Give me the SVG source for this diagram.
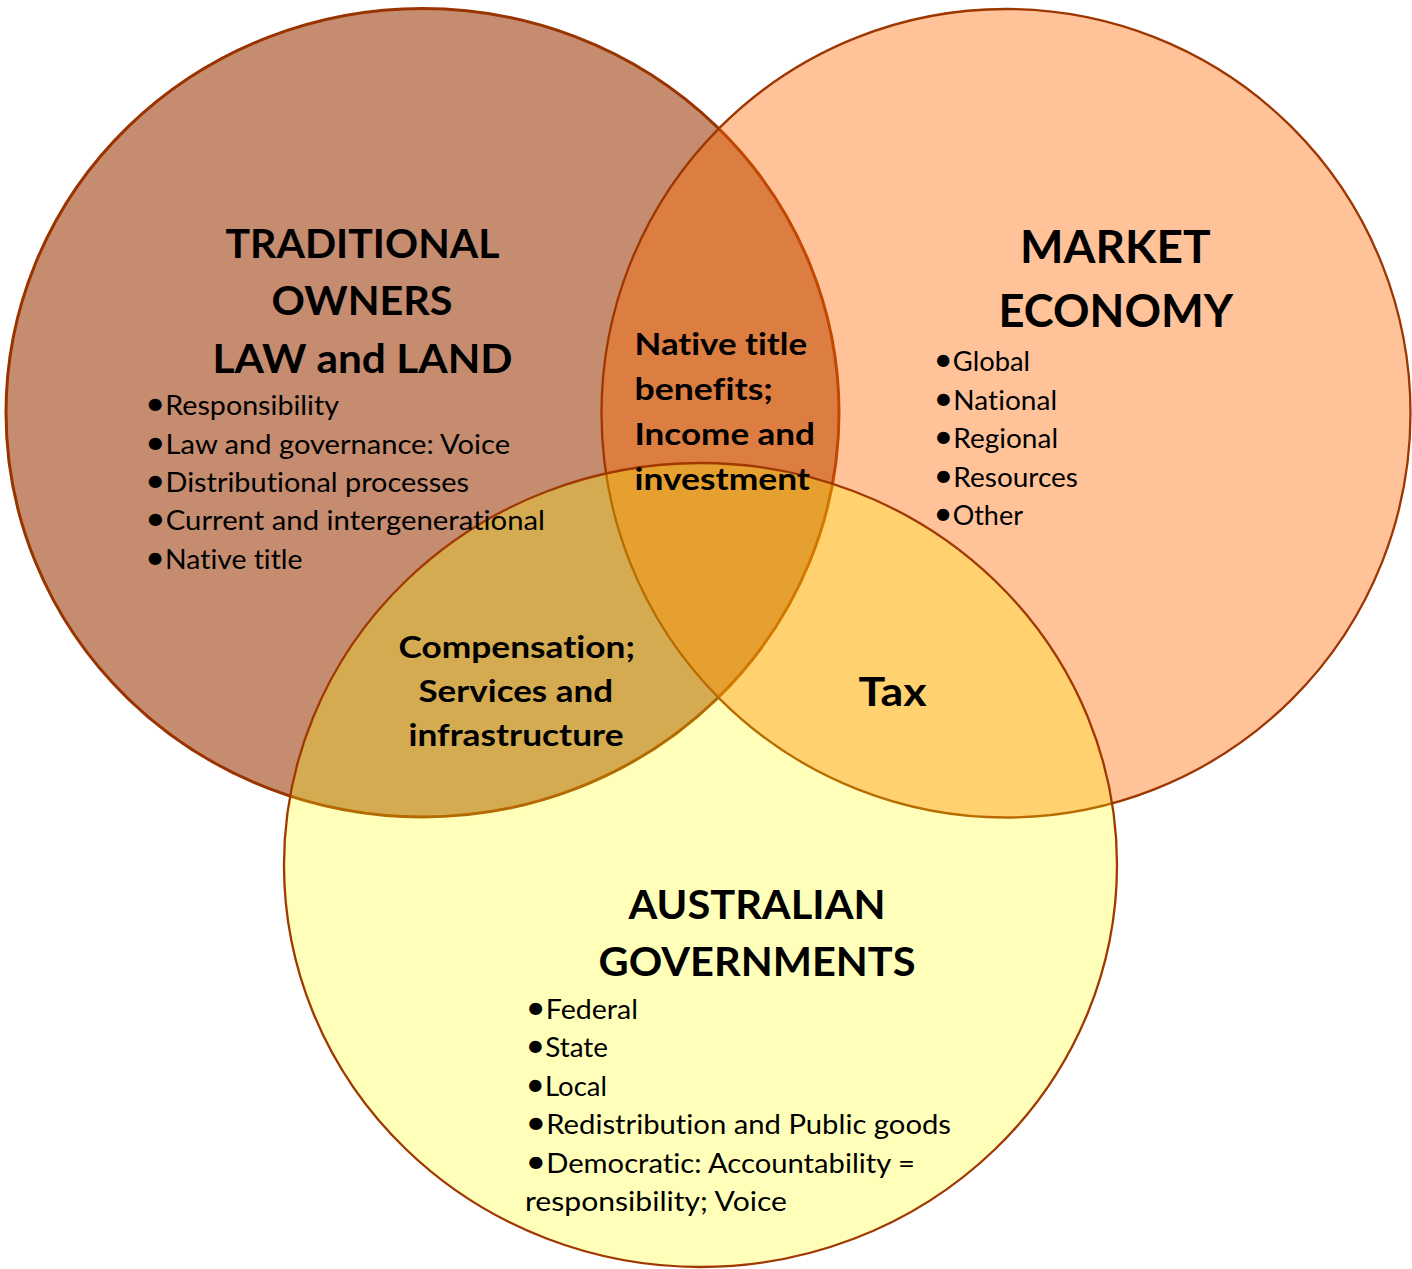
<svg xmlns="http://www.w3.org/2000/svg" width="1412" height="1269" viewBox="0 0 1412 1269">
<style>
.c1{fill:#993300;fill-opacity:0.565;stroke:#993300;stroke-width:3}
.c2{fill:#FF6600;fill-opacity:0.4;stroke:#9E3600;stroke-width:2.3}
.c3{fill:#FFFF00;fill-opacity:0.27;stroke:#A03800;stroke-width:2.3}
text{font-family:Lato,"Liberation Sans",sans-serif;fill:#000;font-variant-ligatures:none;font-feature-settings:"liga" 0,"clig" 0}
.t{font-weight:bold;font-size:40px}
.tm{font-weight:bold;font-size:46px}
.b{font-size:27px}
.d{font-size:33px}
.o{font-weight:bold;font-size:31px}
</style>
<rect width="1412" height="1269" fill="#FFFFFF"/>
<g id="circles">
<ellipse id="circle-traditional-owners" class="c1" cx="422.5" cy="412.75" rx="416.5" ry="404.25"/>
<ellipse id="circle-market-economy" class="c2" cx="1006" cy="413.25" rx="404.5" ry="404.25"/>
<ellipse id="circle-australian-governments" class="c3" cx="700.5" cy="865" rx="416.5" ry="402"/>
</g>
<g id="node-traditional-owners">
<text class="t" x="225.5" y="258" textLength="274" lengthAdjust="spacingAndGlyphs">TRADITIONAL</text>
<text class="t" x="271.5" y="315" textLength="181" lengthAdjust="spacingAndGlyphs">OWNERS</text>
<text class="t" x="212.5" y="373" textLength="300" lengthAdjust="spacingAndGlyphs">LAW and LAND</text>
<text class="b" x="145" y="415" textLength="194" lengthAdjust="spacingAndGlyphs"><tspan class="d">•</tspan>Responsibility</text>
<text class="b" x="145" y="453.5" textLength="365" lengthAdjust="spacingAndGlyphs"><tspan class="d">•</tspan>Law and governance: Voice</text>
<text class="b" x="145" y="492" textLength="324" lengthAdjust="spacingAndGlyphs"><tspan class="d">•</tspan>Distributional processes</text>
<text class="b" x="145" y="530" textLength="400" lengthAdjust="spacingAndGlyphs"><tspan class="d">•</tspan>Current and intergenerational</text>
<text class="b" x="145" y="568.5" textLength="157.5" lengthAdjust="spacingAndGlyphs"><tspan class="d">•</tspan>Native title</text>
</g>
<g id="node-market-economy">
<text class="tm" x="1020" y="263" textLength="190.5" lengthAdjust="spacingAndGlyphs">MARKET</text>
<text class="tm" x="998.5" y="326.5" textLength="234.5" lengthAdjust="spacingAndGlyphs">ECONOMY</text>
<text class="b" x="933.5" y="371" textLength="96.5" lengthAdjust="spacingAndGlyphs"><tspan class="d">•</tspan>Global</text>
<text class="b" x="933.5" y="409.5" textLength="123.5" lengthAdjust="spacingAndGlyphs"><tspan class="d">•</tspan>National</text>
<text class="b" x="933.5" y="448" textLength="124.5" lengthAdjust="spacingAndGlyphs"><tspan class="d">•</tspan>Regional</text>
<text class="b" x="933.5" y="486.5" textLength="144.5" lengthAdjust="spacingAndGlyphs"><tspan class="d">•</tspan>Resources</text>
<text class="b" x="933.5" y="525" textLength="89.5" lengthAdjust="spacingAndGlyphs"><tspan class="d">•</tspan>Other</text>
</g>
<g id="node-australian-governments">
<text class="t" x="628.5" y="918.5" textLength="257" lengthAdjust="spacingAndGlyphs">AUSTRALIAN</text>
<text class="t" x="598.5" y="976" textLength="317" lengthAdjust="spacingAndGlyphs">GOVERNMENTS</text>
<text class="b" x="525.5" y="1018.5" textLength="112.5" lengthAdjust="spacingAndGlyphs"><tspan class="d">•</tspan>Federal</text>
<text class="b" x="525.5" y="1057" textLength="82.5" lengthAdjust="spacingAndGlyphs"><tspan class="d">•</tspan>State</text>
<text class="b" x="525.5" y="1095.5" textLength="81.5" lengthAdjust="spacingAndGlyphs"><tspan class="d">•</tspan>Local</text>
<text class="b" x="525.5" y="1134" textLength="425.5" lengthAdjust="spacingAndGlyphs"><tspan class="d">•</tspan>Redistribution and Public goods</text>
<text class="b" x="525.5" y="1172.5" textLength="389.5" lengthAdjust="spacingAndGlyphs"><tspan class="d">•</tspan>Democratic: Accountability =</text>
<text class="b" x="525" y="1211" textLength="262" lengthAdjust="spacingAndGlyphs">responsibility; Voice</text>
</g>
<g id="overlap-owners-market">
<text class="o" x="634.5" y="355" textLength="172.5" lengthAdjust="spacingAndGlyphs">Native title</text>
<text class="o" x="634.5" y="399.5" textLength="138.5" lengthAdjust="spacingAndGlyphs">benefits;</text>
<text class="o" x="634.5" y="444.5" textLength="180.5" lengthAdjust="spacingAndGlyphs">Income and</text>
<text class="o" x="634.5" y="489.5" textLength="175.5" lengthAdjust="spacingAndGlyphs">investment</text>
</g>
<g id="overlap-owners-governments">
<text class="o" x="398.5" y="658" textLength="236.5" lengthAdjust="spacingAndGlyphs">Compensation;</text>
<text class="o" x="418.5" y="702" textLength="194.5" lengthAdjust="spacingAndGlyphs">Services and</text>
<text class="o" x="408.5" y="746" textLength="215" lengthAdjust="spacingAndGlyphs">infrastructure</text>
</g>
<g id="overlap-market-governments">
<text class="t" x="858.5" y="706" textLength="68" lengthAdjust="spacingAndGlyphs">Tax</text>
</g>
</svg>
